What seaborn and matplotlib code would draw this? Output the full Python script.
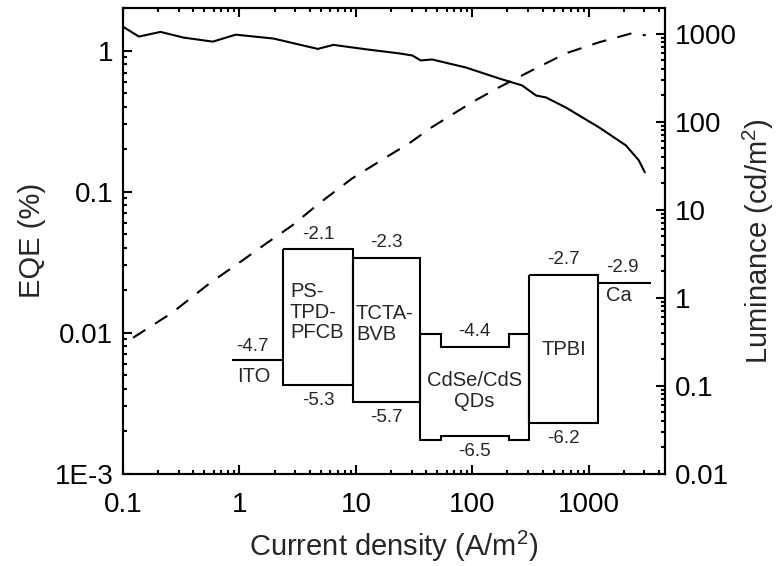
import matplotlib
matplotlib.use("Agg")
import matplotlib.pyplot as plt
import seaborn as sns
from matplotlib.ticker import FixedLocator, FixedFormatter, LogLocator, NullFormatter

sns.set_theme(style="ticks")
plt.rcParams["font.family"] = ["Liberation Sans", "DejaVu Sans"]
plt.rcParams["mathtext.fontset"] = "custom"
plt.rcParams["mathtext.rm"] = "Liberation Sans"
plt.rcParams["mathtext.it"] = "Liberation Sans:italic"

# ---- device characteristics ----
eqe_current = [0.1, 0.137, 0.21, 0.33, 0.59, 0.93, 1.96, 4.7, 6.4, 12.6, 23.6, 30.5,
               36, 45, 88, 170, 267, 352, 428, 635, 1220, 2075, 2680, 3020]
eqe_percent = [1.48, 1.26, 1.36, 1.24, 1.16, 1.30, 1.22, 1.03, 1.10, 1.02, 0.957, 0.925,
               0.853, 0.867, 0.76, 0.635, 0.567, 0.481, 0.466, 0.395, 0.286, 0.213, 0.167,
               0.137]

lum_current = [0.122, 0.263, 0.556, 1.07, 1.71, 2.86, 4.87, 9.33, 18.2, 28.7, 45, 99.5,
               170, 325, 635, 1220, 2335, 3080]
luminance = [0.35, 0.67, 1.46, 2.67, 4.16, 6.67, 11.9, 22.8, 39.5, 57, 87, 167,
             247, 385, 600, 800, 1014, 960]

x_ticks = [0.1, 1, 10, 100, 1000]
x_tick_labels = ["0.1", "1", "10", "100", "1000"]
eqe_ticks = [1e-3, 0.01, 0.1, 1]
eqe_tick_labels = ["1E-3", "0.01", "0.1", "1"]
lum_ticks = [0.01, 0.1, 1, 10, 100, 1000]
lum_tick_labels = ["0.01", "0.1", "1", "10", "100", "1000"]

# ---- energy levels (eV) ----
ito_wf = -4.7
ca_wf = -2.9
box_names = ["PS-\nTPD-\nPFCB", "TCTA-\nBVB", "CdSe/CdS\nQDs", "TPBI"]
box_lumo = [-2.1, -2.3, -4.4, -2.7]
box_homo = [-5.3, -5.7, -6.5, -6.2]
shell_cb = -4.1
shell_vb = -6.6

# layer edges in the diagram's horizontal units
edges = [232, 283, 353, 420, 529, 598, 651]
core_span = (441, 509)

W, H = 778, 566
fig = plt.figure(figsize=(W / 100, H / 100), dpi=100)
left, right, top, bottom = 123, 665, 8.3, 473.5
ax = fig.add_axes([left / W, 1 - bottom / H, (right - left) / W, (bottom - top) / H])
ax2 = ax.twinx()

LW = 1.5
sns.lineplot(x=eqe_current, y=eqe_percent, ax=ax, color="black", lw=LW,
             estimator=None, sort=False)
sns.lineplot(x=lum_current, y=luminance, ax=ax2, color="black", lw=LW,
             estimator=None, sort=False, linestyle=(0, (7, 5.5)))

for a in (ax, ax2):
    a.set_xscale("log")
    a.set_yscale("log")
    for s in a.spines.values():
        s.set_linewidth(LW)
        s.set_visible(True)
        s.set_color("black")

ax.set_xlim(0.1, 4500)
ax.set_ylim(1e-3, 2)
ax2.set_ylim(0.01, 1950)

ax.xaxis.set_major_locator(FixedLocator(x_ticks))
ax.xaxis.set_major_formatter(FixedFormatter(x_tick_labels))
ax.xaxis.set_minor_locator(LogLocator(base=10, subs=range(2, 10), numticks=20))
ax.xaxis.set_minor_formatter(NullFormatter())
ax.yaxis.set_major_locator(FixedLocator(eqe_ticks))
ax.yaxis.set_major_formatter(FixedFormatter(eqe_tick_labels))
ax.yaxis.set_minor_locator(LogLocator(base=10, subs=range(2, 10), numticks=20))
ax.yaxis.set_minor_formatter(NullFormatter())
ax2.yaxis.set_major_locator(FixedLocator(lum_ticks))
ax2.yaxis.set_major_formatter(FixedFormatter(lum_tick_labels))
ax2.yaxis.set_minor_locator(LogLocator(base=10, subs=range(2, 10), numticks=20))
ax2.yaxis.set_minor_formatter(NullFormatter())

FS_TICK = 20
ax.tick_params(axis="both", which="both", direction="in", width=LW, colors="black",
               labelsize=FS_TICK, top=True, right=False)
ax.tick_params(axis="both", which="major", length=6.5, pad=7)
ax.tick_params(axis="x", which="major", pad=13)
ax.tick_params(axis="both", which="minor", length=3)
ax2.tick_params(axis="y", which="both", direction="in", width=LW, colors="black",
                labelsize=FS_TICK, left=False, right=True)
ax2.tick_params(axis="y", which="major", length=6.5, pad=7)
ax2.tick_params(axis="y", which="minor", length=3)

FS_LABEL = 21
ax.set_xlabel(r"Current density (A/m$^{2}$)", fontsize=FS_LABEL, labelpad=8)
ax.set_ylabel("EQE (%)", fontsize=FS_LABEL, labelpad=6)
ax2.set_ylabel(r"Luminance (cd/m$^{2}$)", fontsize=FS_LABEL, labelpad=3)

# ---- energy level diagram ----
e_top, e_bot = -1.5, -7.0
px_per_ev = 42.4
y_ref = 249.3  # pixel row of -2.1 eV
y0 = y_ref - (e_top - (-2.1)) * px_per_ev
y1 = y_ref + ((-2.1) - e_bot) * px_per_ev
ins = fig.add_axes([200 / W, 1 - y1 / H, 460 / W, (y1 - y0) / H])
ins.set_xlim(200, 660)
ins.set_ylim(e_bot, e_top)
ins.set_axis_off()
ins.set_zorder(3)

kw = dict(color="black", lw=LW, solid_joinstyle="miter", solid_capstyle="butt")
# electrodes
ins.plot([edges[0], edges[1]], [ito_wf, ito_wf], **kw)
ins.plot([edges[5], edges[6]], [ca_wf, ca_wf], **kw)
# transport layers as boxes
for i, (lo, hi) in zip([1, 2, 4], [(box_homo[0], box_lumo[0]), (box_homo[1], box_lumo[1]),
                                   (box_homo[3], box_lumo[3])]):
    xa, xb = edges[i], edges[i + 1]
    ins.plot([xa, xb, xb, xa, xa], [hi, hi, lo, lo, hi], **kw)
# core/shell quantum dots
xa, xb = edges[3], edges[4]
ca_, cb_ = core_span
qd_x = [xa, ca_, ca_, cb_, cb_, xb, xb, cb_, cb_, ca_, ca_, xa, xa]
qd_y = [shell_cb, shell_cb, box_lumo[2], box_lumo[2], shell_cb, shell_cb,
        shell_vb, shell_vb, box_homo[2], box_homo[2], shell_vb, shell_vb, shell_cb]
ins.plot(qd_x, qd_y, **kw)

FS_NUM = 13.5
FS_NAME = 14.5
off = 0.35
centers = [(edges[i] + edges[i + 1]) / 2 for i in range(6)]
ins.text(centers[0] - 5, ito_wf + 0.30, f"{ito_wf:g}", ha="center", va="center", fontsize=FS_NUM)
ins.text(centers[0] - 4, ito_wf - 0.39, "ITO", ha="center", va="center", fontsize=FS_NAME)
ins.text(centers[5] - 2, ca_wf + 0.36, f"{ca_wf:g}", ha="center", va="center", fontsize=FS_NUM)
ins.text(centers[5] - 6, ca_wf - 0.30, "Ca", ha="center", va="center", fontsize=FS_NAME)
for k, i in enumerate([1, 2, 3, 4]):
    ins.text(centers[i], box_lumo[k] + off, f"{box_lumo[k]:g}", ha="center", va="center",
             fontsize=FS_NUM)
    ins.text(centers[i], box_homo[k] - off - 0.02, f"{box_homo[k]:g}", ha="center",
             va="center", fontsize=FS_NUM)
ins.text(edges[1] + 7, -3.58, box_names[0], ha="left", va="center", fontsize=FS_NAME,
         linespacing=1.1)
ins.text(edges[2] + 3, -3.86, box_names[1], ha="left", va="center", fontsize=FS_NAME,
         linespacing=1.1)
ins.text(centers[3], -5.44, box_names[2], ha="center", va="center", fontsize=FS_NAME,
         linespacing=1.1, multialignment="center")
ins.text(centers[4], -4.47, box_names[3], ha="center", va="center", fontsize=FS_NAME)

fig.savefig("out.png", dpi=100)
